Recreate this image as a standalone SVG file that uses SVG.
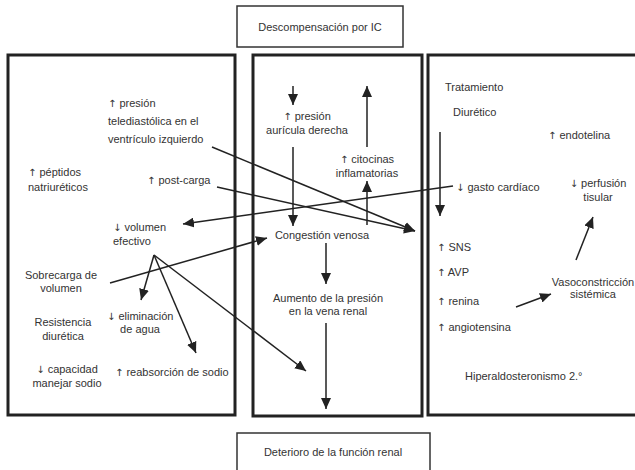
<svg xmlns="http://www.w3.org/2000/svg" width="635" height="470" viewBox="0 0 635 470">
<style>
text{font-family:"Liberation Sans",Arial,sans-serif;font-size:11px;fill:#333}
.c{text-anchor:middle}
.t{font-size:11px}
.a{font-family:"DejaVu Sans",sans-serif;font-size:10px}
.panel{fill:none;stroke:#222;stroke-width:3}
.box{fill:#fff;stroke:#333;stroke-width:1.5}
.ln{stroke:#222;stroke-width:1.5;fill:none;marker-end:url(#ah)}
</style>
<defs>
<marker id="ah" markerUnits="userSpaceOnUse" markerWidth="11" markerHeight="10" refX="11" refY="5" orient="auto">
<path d="M0,0 L11,5 L0,10 z" fill="#222"/>
</marker>
</defs>
<rect width="635" height="470" fill="#fff"/>
<g id="top"><rect class="box" x="237" y="6" width="166" height="41"/><text class="c t" x="320" y="31">Descompensación por IC</text></g>
<g id="panel-left"><rect class="panel" x="8" y="55" width="227" height="360"/></g>
<g id="panel-mid"><rect class="panel" x="253" y="55" width="169" height="361"/></g>
<g id="panel-right"><rect class="panel" x="428" y="55" width="212" height="360"/></g>
<g id="bottom"><rect class="box" x="237" y="433" width="193" height="45"/><text class="c t" x="333" y="456">Deterioro de la función renal</text></g>

<g id="presion-tele"><text x="108" y="107"><tspan class="a">↑</tspan> presión</text><text x="108" y="125">telediastólica en el</text><text x="108" y="143">ventrículo izquierdo</text></g>
<g id="peptidos"><text x="28" y="176"><tspan class="a">↑</tspan> péptidos</text><text x="28" y="191">natriuréticos</text></g>
<g id="postcarga"><text x="147" y="184"><tspan class="a">↑</tspan> post-carga</text></g>
<g id="volumen"><text x="113" y="231"><tspan class="a">↓</tspan> volumen</text><text x="113" y="245">efectivo</text></g>
<g id="sobrecarga"><text class="c" x="61" y="279">Sobrecarga de</text><text class="c" x="61" y="292">volumen</text></g>
<g id="resistencia"><text class="c" x="63" y="326">Resistencia</text><text class="c" x="63" y="340">diurética</text></g>
<g id="capacidad"><text class="c" x="67" y="373"><tspan class="a">↓</tspan> capacidad</text><text class="c" x="67" y="387">manejar sodio</text></g>
<g id="eliminacion"><text x="107" y="320"><tspan class="a">↓</tspan> eliminación</text><text class="c" x="140" y="333">de agua</text></g>
<g id="reabsorcion"><text x="115" y="376"><tspan class="a">↑</tspan> reabsorción de sodio</text></g>

<g id="presion-auricula"><text class="c" x="307" y="120"><tspan class="a">↑</tspan> presión</text><text class="c" x="307" y="134">aurícula derecha</text></g>
<g id="citocinas"><text class="c" x="367" y="163"><tspan class="a">↑</tspan> citocinas</text><text class="c" x="367" y="177">inflamatorias</text></g>
<g id="congestion"><text class="c" x="322" y="239">Congestión venosa</text></g>
<g id="aumento"><text class="c" x="328" y="302">Aumento de la presión</text><text class="c" x="328" y="315">en la vena renal</text></g>

<g id="tratamiento"><text x="445" y="91">Tratamiento</text><text x="453" y="116">Diurético</text></g>
<g id="endotelina"><text x="548" y="139"><tspan class="a">↑</tspan> endotelina</text></g>
<g id="gasto"><text x="456" y="191"><tspan class="a">↓</tspan> gasto cardíaco</text></g>
<g id="perfusion"><text class="c" x="598" y="187"><tspan class="a">↓</tspan> perfusión</text><text class="c" x="598" y="201">tisular</text></g>
<g id="neuro"><text x="437" y="251"><tspan class="a">↑</tspan> SNS</text><text x="437" y="276"><tspan class="a">↑</tspan> AVP</text><text x="437" y="305"><tspan class="a">↑</tspan> renina</text><text x="437" y="331"><tspan class="a">↑</tspan> angiotensina</text></g>
<g id="vasoconstriccion"><text class="c" x="593" y="286">Vasoconstricción</text><text class="c" x="593" y="298">sistémica</text></g>
<g id="hiperaldo"><text x="465" y="380">Hiperaldosteronismo 2.°</text></g>

<g id="connectors">
<line class="ln" x1="212" y1="147" x2="415" y2="231"/>
<line class="ln" x1="217" y1="187" x2="415" y2="231"/>
<line class="ln" x1="453" y1="186" x2="183" y2="224"/>
<line class="ln" x1="110" y1="283" x2="267" y2="238"/>
<line class="ln" x1="154" y1="255" x2="141" y2="300"/>
<line class="ln" x1="154" y1="255" x2="196" y2="353"/>
<line class="ln" x1="154" y1="255" x2="306" y2="371"/>
<line class="ln" x1="293" y1="86" x2="293" y2="105"/>
<line class="ln" x1="293" y1="147" x2="293" y2="226"/>
<line class="ln" x1="367" y1="147" x2="367" y2="86"/>
<line class="ln" x1="367" y1="225" x2="367" y2="181"/>
<line class="ln" x1="326" y1="243" x2="326" y2="284"/>
<line class="ln" x1="326" y1="323" x2="326" y2="409"/>
<line class="ln" x1="440" y1="132" x2="440" y2="216"/>
<line class="ln" x1="576" y1="260" x2="593" y2="217"/>
<line class="ln" x1="516" y1="307" x2="551" y2="294"/>
</g>
</svg>
